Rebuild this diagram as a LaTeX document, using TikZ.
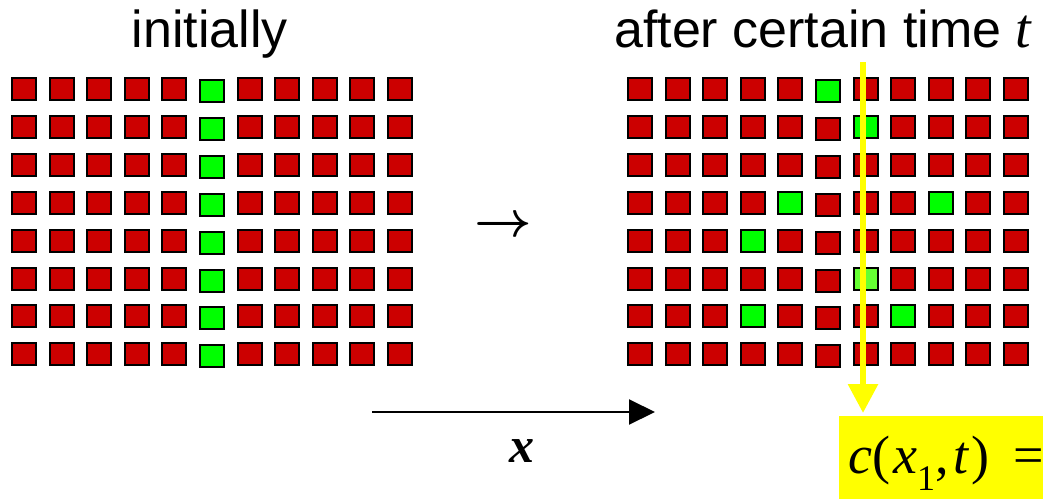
\documentclass[tikz,border=0pt]{standalone}
\usepackage{amsmath}
\usepackage{fontspec}
\setmainfont{Liberation Sans}
\newfontfamily\tms{Liberation Serif}
\usetikzlibrary{arrows.meta}
\definecolor{cellred}{HTML}{CC0000}
\definecolor{cellgreen}{HTML}{00FF00}
\definecolor{cellpale}{HTML}{66FF33}
\definecolor{marker}{HTML}{FFFF00}
\tikzset{
  cell/.style={draw=black, line width=2pt, minimum width=24pt, minimum height=22pt,
               inner sep=0pt, outer sep=0pt},
  title/.style={font=\fontsize{52}{60}\selectfont, inner sep=0pt},
  axisarrow/.style={line width=2pt, -{Triangle[width=25pt,length=26pt]}},
  probe/.style={draw=marker, fill=marker, line width=6pt,
                -{Triangle[width=29pt,length=29pt]}, shorten >=3pt},
}
\begin{document}
\begin{tikzpicture}[x=1pt,y=-1pt]
\useasboundingbox (0,0) rectangle (1043,498);
\clip (0,0) rectangle (1043,498);

% titles
\node[title, anchor=base] (ttl-left) at (210,47) {initially};
\node[title, anchor=base west] (ttl-right) at (614,47)
  {after certain time {\tms\itshape\fontsize{56}{60}\selectfont t}};

% initial state: one green column in a red lattice
\foreach \r in {0,...,7}{
  \foreach \c in {0,...,10}{
    \pgfmathsetmacro\dy{\c==5 ? 2 : 0}
    \ifnum\c=5 \def\fc{cellgreen}\else\def\fc{cellred}\fi
    \node[cell, fill=\fc] (L-\r-\c) at ({24+37.6*\c},{89+37.9*\r+\dy}) {};
  }}

% later state: the green cells have wandered
\foreach \p/\f in {0-5/cellgreen, 1-6/cellgreen, 3-4/cellgreen, 3-8/cellgreen,
                   4-3/cellgreen, 5-6/cellpale, 6-3/cellgreen, 6-7/cellgreen}{
  \expandafter\xdef\csname cf@\p\endcsname{\f}}
\foreach \r in {0,...,7}{
  \foreach \c in {0,...,10}{
    \pgfmathsetmacro\dy{\c==5 ? 2 : 0}
    \ifcsname cf@\r-\c\endcsname
      \edef\fc{\csname cf@\r-\c\endcsname}%
    \else
      \def\fc{cellred}%
    \fi
    \node[cell, fill=\fc] (R-\r-\c) at ({640+37.6*\c},{89+37.9*\r+\dy}) {};
  }}

% arrow between the two states
\node[inner sep=0pt] (midarrow) at (503,227) {\scalebox{5}{$\boldsymbol{\rightarrow}$}};

% x axis
\coordinate (xs) at (372,412);
\coordinate (xe) at (655,412);
\draw[axisarrow] (xs) -- (xe);
\node[inner sep=0pt] (xlab) at (522,451) {\fontsize{50}{50}\selectfont\tms\bfseries\itshape x};

% concentration read-out at x_1
\node[fill=marker, anchor=north west, inner xsep=9pt, inner ysep=0pt,
      text width=215pt, align=left,
      text height=57pt, text depth=30pt, font=\fontsize{54}{60}\selectfont\tms]
  (formula) at (839,416)
  {\textit{c}(\kern3pt\textit{x}\raisebox{-0.32em}{\fontsize{36}{36}\selectfont 1},\kern5pt\textit{t}\kern2pt)\hspace{0.45em}=};
\coordinate (ytop) at (863,62);
\draw[probe] (ytop) -- (ytop |- formula.north);
\end{tikzpicture}
\end{document}
